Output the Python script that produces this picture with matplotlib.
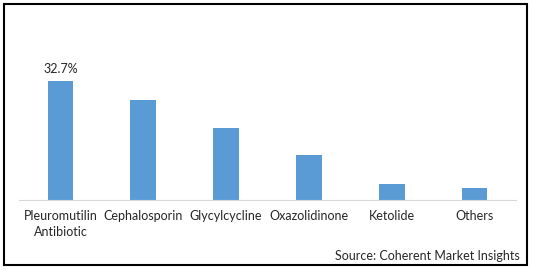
import matplotlib.pyplot as plt
from matplotlib.patches import Rectangle

# Dados do gráfico
categorias = ['Pleuromutilin\nAntibiotic', 'Cephalosporin', 'Glycylcycline',
              'Oxazolidinone', 'Ketolide', 'Others']
valores = [32.7, 27.5, 19.8, 12.4, 4.4, 3.3]
rotulo_destaque = '32.7%'

plt.rcParams['font.family'] = ['Lato', 'DejaVu Sans']

W, H = 534, 271
fig = plt.figure(figsize=(W / 100, H / 100), dpi=100)

# Eixo posicionado em pixels
x0, x1 = 19, 516
y_top, y_base = 20, 200
ax = fig.add_axes([x0 / W, (H - y_base) / H, (x1 - x0) / W, (y_base - y_top) / H])

pos = list(range(len(categorias)))
ax.bar(pos, valores, width=0.31, color='#5B9BD5')
ax.set_xlim(-0.5, len(categorias) - 0.5)
ax.set_ylim(0, 32.7 * 180 / 119)

ax.text(pos[0], valores[0] + 1.6, rotulo_destaque, ha='center', va='bottom',
        fontsize=9, color='#262626')

for s in ['top', 'right', 'left']:
    ax.spines[s].set_visible(False)
ax.spines['bottom'].set_color('#D9D9D9')
ax.set_yticks([])
ax.set_xticks(pos)
ax.set_xticklabels(categorias, fontsize=9, color='#262626', linespacing=1.45)
ax.tick_params(axis='x', length=0, pad=7)

fig.text(520 / W, 1 - 256 / H, 'Source: Coherent Market Insights', ha='right',
         va='center', fontsize=9, color='#262626')

# Moldura externa
fig.patches.append(Rectangle((4 / W, 1 - 265 / H), 523 / W, 261 / H,
                             transform=fig.transFigure, fill=False,
                             edgecolor='black', linewidth=1.5))

fig.savefig('out.png', dpi=100)
